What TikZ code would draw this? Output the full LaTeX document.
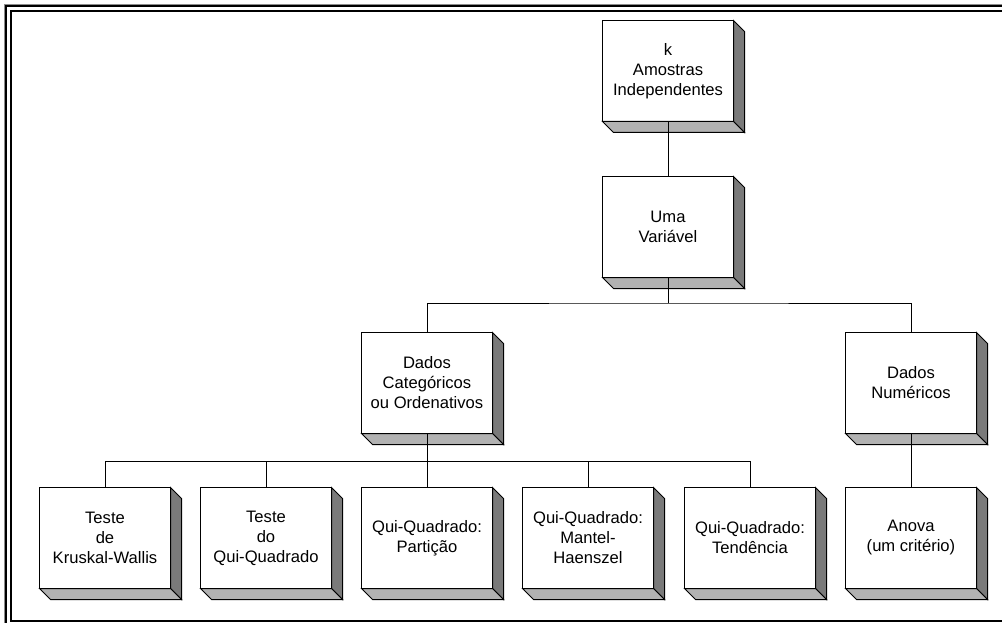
\documentclass[tikz,border=0pt]{standalone}
\usepackage{fontspec}
\setmainfont{Liberation Sans}
\usepackage{tikz}

% caixa em relevo: face da frente + lado direito + lado de baixo
\newcommand{\caixa}[3]{%
  \node[caixa] (#1) at (#2) {#3};
  \filldraw[ladodir] (#1.north east) -- ([shift={(11,11)}]#1.north east)
    -- ([shift={(11,11)}]#1.south east) -- (#1.south east) -- cycle;
  \filldraw[ladobaixo] (#1.south west) -- ([shift={(11,11)}]#1.south west)
    -- ([shift={(11,11)}]#1.south east) -- (#1.south east) -- cycle;
}

\begin{document}
\begin{tikzpicture}[x=1pt,y=-1pt,line width=1pt,
    caixa/.style={draw, fill=white, minimum width=131pt, minimum height=101pt,
      inner sep=0pt, outer sep=0pt, align=center,
      font=\fontsize{16.6}{20}\selectfont},
    ladodir/.style={fill=black!52, draw=black},
    ladobaixo/.style={fill=black!30, draw=black}]
  \useasboundingbox (0,0) rectangle (1002,623);

  % moldura
  \draw[black!45, line width=0.8pt] (4,623) -- (4,4) -- (1002,4);
  \draw[line width=2pt] (6,623) -- (6,6) -- (1002,6);
  \draw[line width=2pt] (1002,11) -- (11,11) -- (11,621);
  \draw[line width=1.5pt] (10,621) -- (1002,621);

  % caixas
  \caixa{amostras}{668,71}{k\\Amostras\\Independentes}
  \caixa{uma}{668,227}{Uma\\Variável}
  \caixa{cat}{427,383}{Dados\\Categóricos\\ou Ordenativos}
  \caixa{num}{911,383}{Dados\\Numéricos}
  \caixa{kw}{105,538}{Teste\\de\\Kruskal-Wallis}
  \caixa{qq}{266,538}{Teste\\do\\Qui-Quadrado}
  \caixa{part}{427,538}{Qui-Quadrado:\\Partição}
  \caixa{mh}{588,538}{Qui-Quadrado:\\Mantel-\\Haenszel}
  \caixa{tend}{750,538}{Qui-Quadrado:\\Tendência}
  \caixa{anova}{911,538}{Anova\\(um critério)}

  % ligacoes
  \coordinate (nivel1) at (668,303);
  \coordinate (nivel2) at (427,461);
  \draw (amostras.south) -- (uma.north);
  \draw (uma.south) -- (nivel1);
  \draw (cat.north) |- (nivel1) -| (num.north);
  \draw (cat.south) -- (nivel2);
  \foreach \n in {kw,qq,part,mh,tend}
    \draw (nivel2) -| (\n.north);
  \draw (num.south) -- (anova.north);
\end{tikzpicture}
\end{document}
